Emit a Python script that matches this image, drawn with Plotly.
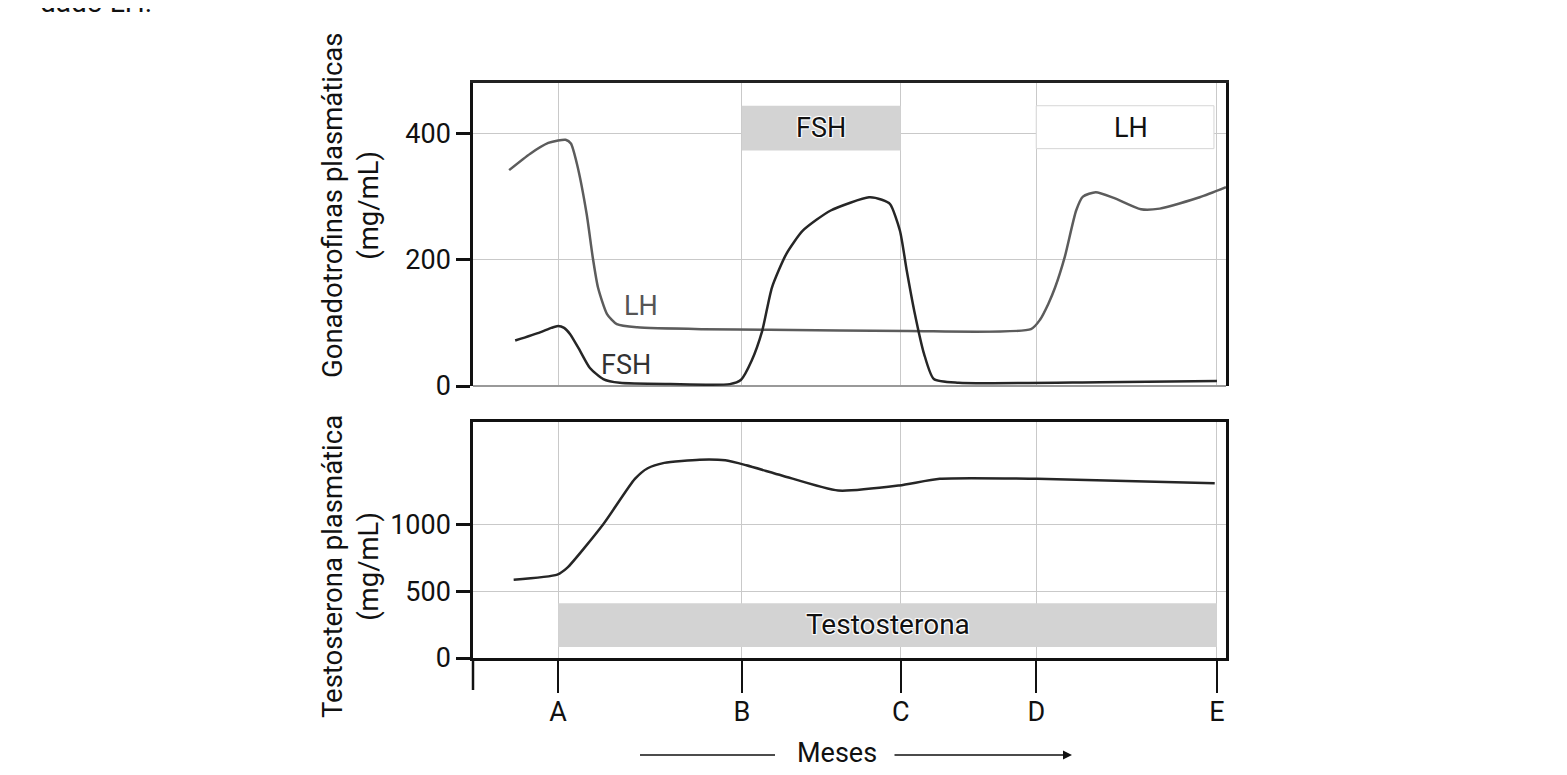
import plotly.graph_objects as go

# x axis runs 0..100 across the plot width; month marks are uneven
tick_pos = [11.3, 35.7, 56.8, 74.8, 98.8]
tick_text = ["A", "B", "C", "D", "E"]

lh_x = [4.8, 7.6, 10.0, 11.3, 12.3, 13.0, 13.8, 15.1, 15.9, 16.6, 17.8, 19.1, 21.8, 30.5, 39.4,
        57.6, 74.1, 75.3, 76.4, 77.3, 78.6, 80.1, 81.0, 82.7, 85.1, 88.7, 91.2, 96.5, 100]
lh_y = [342, 368, 385, 389, 390, 384, 352, 272, 204, 156, 114, 98, 93, 90, 89,
        87, 90, 105, 130, 156, 205, 278, 300, 307, 298, 280, 281, 299, 315]

fsh_x = [5.6, 8.9, 10.4, 11.3, 12.1, 12.9, 14.2, 15.5, 17.3, 19.5, 26.2, 34.1, 35.6, 37.0, 38.4, 39.7,
         41.6, 43.8, 47.5, 52.6, 54.3, 55.4, 56.7, 57.6, 58.6, 59.9, 61.2, 64.5, 83.3, 98.8]
fsh_y = [72, 85, 92, 95, 92, 82, 56, 29, 11, 5, 3, 3, 10, 40, 87, 156,
         209, 246, 278, 299, 295, 288, 246, 183, 119, 51, 11, 5, 6, 8]

testo_x = [5.4, 11.2, 12.5, 17.3, 21.5, 23.2, 25.4, 30.1, 33.5, 36.3, 41.0, 48.5, 56.6, 62.0, 74.9, 98.5]
testo_y = [586, 624, 674, 1001, 1340, 1420, 1460, 1484, 1479, 1442, 1366, 1253, 1291, 1341, 1341, 1308]

W, H = 1567, 775
OFF = 8  # page body margin shifts everything by ~8px

def px(x):
    return (x - OFF) / W

def py(y):
    return 1 - (y - OFF) / H

font = "Roboto"
fig = go.Figure()

fig.add_trace(go.Scatter(x=lh_x, y=lh_y, mode="lines", line=dict(color="#5c5c5c", width=2.5, shape="spline", smoothing=0.6),
                         xaxis="x", yaxis="y", hoverinfo="skip"))
fig.add_trace(go.Scatter(x=fsh_x, y=fsh_y, mode="lines", line=dict(color="#262626", width=2.5, shape="spline", smoothing=0.6),
                         xaxis="x", yaxis="y", hoverinfo="skip"))
fig.add_trace(go.Scatter(x=testo_x, y=testo_y, mode="lines", line=dict(color="#262626", width=2.5, shape="spline", smoothing=0.6),
                         xaxis="x2", yaxis="y2", hoverinfo="skip"))

grid = "#c9c9c9"
xdom = [px(473), px(1226)]
tickfont = dict(family=font, size=27, color="#111")

fig.update_layout(
    width=W, height=H,
    margin=dict(l=0, r=0, t=0, b=0, autoexpand=False),
    paper_bgcolor="white", plot_bgcolor="white",
    showlegend=False,
    xaxis=dict(domain=xdom, range=[0, 100], tickvals=tick_pos, showticklabels=False, ticks="",
               showgrid=True, gridcolor=grid, gridwidth=1, zeroline=False, automargin=False,
               side="top", showline=True, linecolor="#222", linewidth=2.5, anchor="y"),
    yaxis=dict(domain=[py(386), py(83)], range=[0, 480], tickvals=[0, 200, 400],
               ticks="outside", ticklen=14, tickwidth=2.5, tickcolor="#111",
               tickfont=tickfont, showgrid=True, gridcolor=grid, gridwidth=1, automargin=False,
               zeroline=True, zerolinecolor="#999", zerolinewidth=1.5,
               showline=True, mirror=True, linecolor="#111", linewidth=2.5, anchor="x"),
    xaxis2=dict(domain=xdom, range=[0, 100], tickvals=tick_pos, ticktext=tick_text,
                ticks="outside", ticklen=32, tickwidth=2, tickcolor="#111",
                tickfont=tickfont, ticklabelstandoff=-4, automargin=False,
                showgrid=True, gridcolor=grid, gridwidth=1, zeroline=False,
                showline=True, mirror=True, linecolor="#111", linewidth=2.5, anchor="y2"),
    yaxis2=dict(domain=[py(658), py(422)], range=[0, 1766], tickvals=[0, 500, 1000],
                ticks="outside", ticklen=14, tickwidth=2.5, tickcolor="#111",
                tickfont=tickfont, showgrid=True, gridcolor=grid, gridwidth=1, automargin=False,
                zeroline=False, showline=True, mirror=True, linecolor="#111", linewidth=2.5,
                anchor="x2"),
)

shapes = [
    # FSH treatment bar
    dict(type="rect", xref="x", yref="y", x0=tick_pos[1], x1=tick_pos[2], y0=373, y1=444,
         fillcolor="#d3d3d3", line=dict(width=0), layer="between"),
    # LH treatment bar (white, thin border)
    dict(type="rect", xref="x", yref="y", x0=tick_pos[3], x1=98.4, y0=376, y1=444,
         fillcolor="white", line=dict(color="#d6d6d6", width=1), layer="between"),
    # Testosterone treatment bar
    dict(type="rect", xref="x2", yref="y2", x0=tick_pos[0], x1=tick_pos[4], y0=83, y1=410,
         fillcolor="#d3d3d3", line=dict(width=0), layer="between"),
    # left axis extension below lower panel
    dict(type="line", xref="paper", yref="paper", x0=px(473), x1=px(473), y0=py(658), y1=py(690),
         line=dict(color="#111", width=2.5)),
    # left part of the "Meses" arrow
    dict(type="line", xref="paper", yref="paper", x0=px(640), x1=px(775), y0=py(755), y1=py(755),
         line=dict(color="#111", width=1.5)),
]
fig.update_layout(shapes=shapes)

halo = "1px 1px 1px white, -1px -1px 1px white, 1px -1px 1px white, -1px 1px 1px white"
annotations = [
    dict(text="LH", x=22.3, y=127, xref="x", yref="y", showarrow=False,
         font=dict(family=font, size=27, color="#555")),
    dict(text="FSH", x=20.3, y=33, xref="x", yref="y", showarrow=False,
         font=dict(family=font, size=27, color="#333")),
    dict(text="FSH", x=(tick_pos[1] + tick_pos[2]) / 2, y=409, xref="x", yref="y", showarrow=False,
         font=dict(family=font, size=27, color="#111", shadow=halo)),
    dict(text="LH", x=87.4, y=409, xref="x", yref="y", showarrow=False,
         font=dict(family=font, size=27, color="#111")),
    dict(text="Testosterona", x=(tick_pos[0] + tick_pos[4]) / 2, y=250, xref="x2", yref="y2", showarrow=False,
         font=dict(family=font, size=28, color="#111", shadow=halo)),
    dict(text="Gonadotrofinas plasmáticas<br>(mg/mL)", x=px(350), y=py(206), xref="paper", yref="paper",
         xanchor="center", yanchor="middle",
         textangle=-90, showarrow=False, font=dict(family=font, size=27.5, color="#111")),
    dict(text="Testosterona plasmática<br>(mg/mL)", x=px(350), y=py(567), xref="paper", yref="paper",
         xanchor="center", yanchor="middle",
         textangle=-90, showarrow=False, font=dict(family=font, size=27.5, color="#111")),
    dict(text="Meses", x=px(837), y=py(753), xref="paper", yref="paper", showarrow=False,
         xanchor="center", yanchor="middle", font=dict(family=font, size=27, color="#111")),
    dict(text="", x=px(1072), y=py(755), xref="paper", yref="paper", ax=-179, ay=0,
         showarrow=True, arrowhead=2, arrowsize=1.2, arrowwidth=1.5, arrowcolor="#111"),
    dict(text="dado LH.", x=px(38), y=py(21), xref="paper", yref="paper", xanchor="left", yanchor="bottom",
         showarrow=False, font=dict(family=font, size=28, color="#111")),
]
fig.update_layout(annotations=annotations)

fig.write_html("out.html")
